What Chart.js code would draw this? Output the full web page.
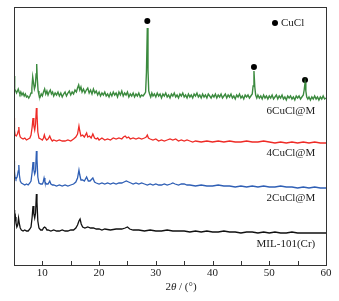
<!DOCTYPE html>
<html>
<head>
<meta charset="utf-8">
<script src="https://cdn.jsdelivr.net/npm/chart.js@4.4.1/dist/chart.umd.min.js"></script>
<style>
  body { margin: 0; background: #fff; }
</style>
</head>
<body>
<canvas id="xrd" width="339" height="301"></canvas>
<script>
// XRD 图谱数据（2θ, 相对强度），各曲线按偏移量错开显示
const seriesNames = ['MIL-101(Cr)', '2CuCl@M', '4CuCl@M', '6CuCl@M'];
const seriesColors = ['#111111', '#2f5fb5', '#ee2b26', '#3b8a3e'];
const seriesOffsets = [30, 76, 121, 163];

const milData = [[5.0,25],[5.07,16],[5.15,14],[5.25,18],[5.35,12],[5.5,8],[5.65,10],[5.8,17],[5.95,11],[6.1,7],[6.3,5],[6.6,4],[6.9,5],[7.2,4],[7.5,4],[7.8,6],[8.0,8],[8.2,18],[8.35,29],[8.5,21],[8.65,17],[8.8,22],[8.95,41],[9.05,33],[9.2,14],[9.4,7],[9.7,5],[10.0,5],[10.2,7],[10.4,8],[10.6,7],[10.8,5],[11.0,5],[11.5,4],[12.0,5],[12.5,4],[13.0,4],[13.5,5],[14.0,4],[14.5,4],[15.0,5],[15.5,5],[15.9,7],[16.2,10],[16.45,14],[16.65,16],[16.85,11],[17.1,8],[17.5,7],[18.0,8],[18.5,7],[19.0,7],[19.5,6],[20.0,6],[20.5,5],[21.0,6],[22.0,5],[23.0,6],[24.0,6],[24.6,7],[25.0,8],[25.4,6],[26.0,5],[27.0,5],[28.0,4],[29.0,5],[30.0,4],[31.0,4],[32.0,5],[33.0,4],[34.0,4],[35.0,4],[36.0,3],[37.0,4],[38.0,3],[39.0,4],[40.0,3],[41.0,3],[42.0,4],[43.0,3],[44.0,3],[45.0,2],[46.0,3],[47.0,3],[48.0,2],[49.0,3],[50.0,2],[51.0,3],[52.0,2],[53.0,2],[54.0,3],[55.0,2],[56.0,2],[57.0,2],[58.0,2],[59.0,2],[60.0,2]];

const cu2Data = [[5.0,28],[5.08,18],[5.18,12],[5.35,10],[5.55,12],[5.75,18],[5.85,24],[5.95,14],[6.1,8],[6.3,6],[6.6,5],[6.9,4],[7.2,5],[7.5,4],[7.8,6],[8.0,8],[8.2,17],[8.35,27],[8.5,19],[8.65,15],[8.8,18],[8.95,38],[9.05,30],[9.2,12],[9.4,6],[9.7,5],[10.0,5],[10.15,7],[10.3,11],[10.45,7],[10.7,5],[11.0,5],[11.3,8],[11.5,5],[11.8,4],[12.0,4],[12.5,3],[13.0,4],[13.5,3],[14.0,4],[14.5,3],[15.0,4],[15.5,5],[15.9,7],[16.2,11],[16.45,19],[16.6,14],[16.8,9],[17.1,9],[17.4,8],[17.8,12],[18.1,8],[18.4,8],[18.9,11],[19.2,7],[19.5,6],[20.0,5],[20.5,6],[21.0,5],[21.5,6],[22.0,5],[22.5,6],[23.0,5],[23.5,6],[24.0,6],[24.4,7],[24.8,8],[25.2,7],[25.6,6],[26.0,5],[26.5,6],[27.0,5],[27.5,6],[28.0,5],[28.5,4],[29.0,5],[29.5,4],[30.0,5],[30.5,4],[31.0,4],[31.5,5],[32.0,4],[32.6,5],[33.0,6],[33.4,5],[34.0,4],[34.5,5],[35.0,5],[35.5,4],[36.0,4],[37.0,3],[38.0,4],[39.0,3],[40.0,3],[41.0,4],[42.0,3],[43.0,3],[44.0,2],[45.0,3],[46.0,2],[47.0,3],[48.0,2],[49.0,3],[50.0,2],[51.0,2],[52.0,3],[53.0,2],[54.0,2],[55.0,1],[56.0,2],[57.0,1],[58.0,2],[59.0,1],[60.0,1]];

const cu4Data = [[5.0,26],[5.08,14],[5.2,9],[5.4,8],[5.6,10],[5.75,13],[5.85,17],[5.95,10],[6.1,7],[6.3,6],[6.6,5],[6.9,6],[7.2,4],[7.5,5],[7.8,6],[8.0,9],[8.2,17],[8.35,26],[8.5,18],[8.65,14],[8.8,20],[8.95,36],[9.05,30],[9.2,12],[9.4,6],[9.7,5],[10.0,4],[10.2,6],[10.35,9],[10.5,6],[10.75,4],[11.0,5],[11.3,8],[11.5,5],[11.75,3],[12.0,4],[12.5,3],[13.0,4],[13.5,3],[14.0,3],[14.5,4],[15.0,3],[15.5,5],[15.9,7],[16.2,10],[16.45,18],[16.6,13],[16.8,8],[17.1,9],[17.4,7],[17.8,11],[18.0,7],[18.3,8],[18.6,6],[18.9,10],[19.2,6],[19.5,5],[19.75,6],[20.0,4],[20.5,6],[21.0,4],[21.5,5],[22.0,4],[22.5,6],[23.0,5],[23.5,6],[24.0,5],[24.3,7],[24.6,8],[24.9,6],[25.2,7],[25.5,5],[26.0,6],[26.5,5],[27.0,6],[27.5,5],[28.0,6],[28.3,7],[28.5,9],[28.7,6],[29.0,5],[29.5,4],[30.0,5],[30.5,3],[31.0,4],[31.5,3],[32.0,4],[32.5,5],[33.0,4],[33.5,5],[34.0,3],[34.5,4],[35.0,3],[35.5,4],[36.0,3],[36.5,2],[37.0,3],[38.0,2],[39.0,3],[40.0,2],[41.0,3],[42.0,2],[43.0,3],[44.0,2],[45.0,2],[46.0,3],[47.0,2],[48.0,2],[49.0,3],[50.0,2],[51.0,1],[52.0,2],[53.0,1],[54.0,2],[55.0,1],[56.0,2],[57.0,1],[58.0,2],[59.0,1],[60.0,1]];

const cu6Data = [[5.0,26],[5.08,18],[5.16,13],[5.3,11],[5.45,9],[5.6,11],[5.75,13],[5.9,10],[6.05,8],[6.2,10],[6.4,7],[6.6,9],[6.8,6],[7.0,8],[7.2,5],[7.4,6],[7.6,4],[7.8,6],[8.0,9],[8.15,14],[8.3,25],[8.45,19],[8.6,13],[8.75,16],[8.9,28],[9.0,38],[9.1,24],[9.25,11],[9.4,7],[9.6,5],[9.8,8],[10.0,6],[10.2,10],[10.4,13],[10.6,8],[10.8,11],[11.0,7],[11.2,10],[11.4,12],[11.6,8],[11.8,10],[12.0,6],[12.25,9],[12.5,7],[12.75,10],[13.0,6],[13.25,9],[13.5,5],[13.75,8],[14.0,10],[14.25,6],[14.5,9],[14.75,11],[15.0,7],[15.25,10],[15.5,8],[15.75,12],[16.0,10],[16.2,14],[16.4,17],[16.6,12],[16.8,15],[17.0,10],[17.25,13],[17.5,9],[17.75,12],[18.0,14],[18.25,9],[18.5,12],[18.75,8],[19.0,13],[19.25,9],[19.5,11],[19.75,7],[20.0,10],[20.25,6],[20.5,9],[20.75,7],[21.0,10],[21.25,6],[21.5,8],[21.75,5],[22.0,9],[22.25,6],[22.5,10],[22.75,7],[23.0,9],[23.25,5],[23.5,10],[23.75,7],[24.0,11],[24.25,6],[24.5,9],[24.75,7],[25.0,10],[25.25,5],[25.5,8],[25.75,6],[26.0,9],[26.25,5],[26.5,8],[26.75,6],[27.0,9],[27.25,5],[27.5,7],[27.75,6],[28.0,8],[28.2,10],[28.35,30],[28.5,74],[28.62,32],[28.75,11],[28.9,8],[29.1,5],[29.3,9],[29.5,6],[29.75,8],[30.0,5],[30.25,9],[30.5,6],[30.75,8],[31.0,4],[31.25,8],[31.5,6],[31.75,9],[32.0,5],[32.25,7],[32.5,4],[32.75,8],[33.0,6],[33.25,9],[33.5,5],[33.75,7],[34.0,4],[34.25,8],[34.5,6],[34.75,9],[35.0,5],[35.25,7],[35.5,4],[35.75,8],[36.0,5],[36.25,7],[36.5,4],[36.75,8],[37.0,6],[37.25,9],[37.5,5],[37.75,7],[38.0,4],[38.25,8],[38.5,5],[38.75,7],[39.0,4],[39.25,8],[39.5,6],[39.75,4],[40.0,7],[40.25,5],[40.5,8],[40.75,4],[41.0,7],[41.25,5],[41.5,8],[41.75,4],[42.0,6],[42.25,8],[42.5,4],[42.75,7],[43.0,5],[43.25,8],[43.5,4],[43.75,6],[44.0,3],[44.25,7],[44.5,5],[44.75,8],[45.0,4],[45.25,6],[45.5,3],[45.75,7],[46.0,5],[46.25,7],[46.5,4],[46.75,6],[47.0,8],[47.15,16],[47.3,31],[47.45,15],[47.6,7],[47.8,4],[48.0,7],[48.25,4],[48.5,6],[48.75,3],[49.0,7],[49.25,4],[49.5,6],[49.75,3],[50.0,6],[50.25,4],[50.5,7],[50.75,3],[51.0,5],[51.25,7],[51.5,3],[51.75,6],[52.0,4],[52.25,7],[52.5,3],[52.75,5],[53.0,2],[53.25,6],[53.5,4],[53.75,6],[54.0,3],[54.25,5],[54.5,2],[54.75,6],[55.0,4],[55.25,6],[55.5,3],[55.75,5],[56.0,7],[56.15,12],[56.3,19],[56.45,11],[56.6,5],[56.8,3],[57.0,5],[57.25,2],[57.5,5],[57.75,3],[58.0,6],[58.25,3],[58.5,5],[58.75,2],[59.0,5],[59.25,3],[59.5,6],[59.75,3],[60.0,4]];

// CuCl 特征峰标记 (2θ, 相对 6CuCl@M 曲线的高度)
const cuclPeaks = [28.5, 47.3, 56.3];
const cuclMarks = [81, 35, 22];

const xMin = 5, xMax = 60, xStep = 5;
const yMax = 258;

const allSeries = [milData, cu2Data, cu4Data, cu6Data];
const FONT = '"Liberation Serif", "DejaVu Serif", serif';

const datasets = allSeries.map((s, i) => ({
    label: seriesNames[i],
    data: s.map(([x, y]) => ({ x: x, y: y + seriesOffsets[i] })),
    borderColor: seriesColors[i],
    borderWidth: i === 3 ? 1.4 : 1.3,
    pointRadius: 0,
    tension: 0,
    fill: false
}));
datasets.push({
    type: 'scatter',
    label: 'CuCl',
    data: cuclPeaks.map((x, i) => ({ x: x, y: cuclMarks[i] + seriesOffsets[3] })),
    pointRadius: 3,
    pointBackgroundColor: '#000',
    pointBorderWidth: 0
});

// 边框、内向刻度、曲线标注、图例和横轴标题
const decorPlugin = {
    id: 'decor',
    afterDraw(chart) {
        const ctx = chart.ctx;
        const a = chart.chartArea;
        const xs = chart.scales.x, ys = chart.scales.y;
        ctx.save();
        ctx.strokeStyle = '#333';
        ctx.lineWidth = 1;
        ctx.strokeRect(Math.round(a.left) + 0.5, Math.round(a.top) + 0.5, Math.round(a.right - a.left), Math.round(a.bottom - a.top));

        ctx.beginPath();
        for (let v = xMin + xStep; v < xMax; v += xStep) {
            const px = Math.round(xs.getPixelForValue(v)) + 0.5;
            ctx.moveTo(px, a.bottom);
            ctx.lineTo(px, a.bottom - 4);
        }
        ctx.stroke();

        ctx.fillStyle = '#222';
        ctx.font = '11px ' + FONT;
        ctx.textAlign = 'right';
        ctx.textBaseline = 'middle';
        seriesNames.forEach((n, i) => {
            ctx.fillText(n, xs.getPixelForValue(58.1), ys.getPixelForValue(seriesOffsets[i] - 9));
        });

        // 图例
        ctx.textAlign = 'left';
        ctx.beginPath();
        ctx.arc(a.right - 51, a.top + 16, 3, 0, Math.PI * 2);
        ctx.fillStyle = '#000';
        ctx.fill();
        ctx.fillStyle = '#222';
        ctx.fillText('CuCl', a.right - 45, a.top + 16);

        // 横轴标题 2θ / (°)
        const parts = [['2', ''], ['θ', 'italic '], [' / (°)', '']];
        let total = 0;
        parts.forEach(p => { ctx.font = p[1] + '11px ' + FONT; total += ctx.measureText(p[0]).width; });
        let x = (a.left + a.right) / 2 + 11 - total / 2;
        const y = 287;
        parts.forEach(p => {
            ctx.font = p[1] + '11px ' + FONT;
            ctx.fillText(p[0], x, y);
            x += ctx.measureText(p[0]).width;
        });
        ctx.restore();
    }
};

new Chart(document.getElementById('xrd'), {
    type: 'line',
    data: { datasets: datasets },
    options: {
        responsive: false,
        animation: false,
        layout: { padding: { left: 14, right: 13, top: 7, bottom: 0 } },
        plugins: { legend: { display: false }, tooltip: { enabled: false } },
        scales: {
            x: {
                type: 'linear',
                min: xMin,
                max: xMax,
                grid: { display: false, drawTicks: false },
                border: { display: false },
                ticks: {
                    stepSize: xStep,
                    autoSkip: false,
                    maxRotation: 0,
                    padding: 2,
                    color: '#222',
                    font: { family: FONT, size: 11 },
                    callback: v => (v % 10 === 0 ? v : '')
                },
                afterFit: s => { s.height = 36; }
            },
            y: { display: false, min: 0, max: yMax }
        }
    },
    plugins: [decorPlugin]
});
</script>
</body>
</html>
